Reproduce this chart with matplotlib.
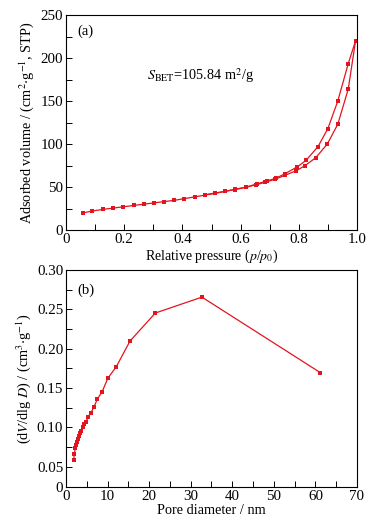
import matplotlib
matplotlib.use("Agg")
import matplotlib.pyplot as plt
from matplotlib.ticker import MultipleLocator

plt.rcParams['font.family'] = ['Liberation Serif', 'DejaVu Serif']
plt.rcParams['mathtext.fontset'] = 'stix'
plt.rcParams['font.size'] = 10

# Panel (a): N2 adsorption-desorption isotherm
ads_p = [0.06, 0.09, 0.127, 0.163, 0.197, 0.232, 0.267, 0.302, 0.337, 0.372, 0.407,
         0.442, 0.477, 0.512, 0.547, 0.582, 0.617, 0.652, 0.685, 0.718, 0.752, 0.792,
         0.822, 0.858, 0.898, 0.934, 0.97, 0.995]
ads_v = [20, 22, 24, 25.5, 27, 28.5, 30, 31.5, 33, 34.5, 36.5, 38.5, 40.5, 42.5, 45,
         47, 49.5, 52.5, 55.5, 59, 63.5, 69, 75, 84, 100, 123, 164, 220]
des_p = [0.995, 0.97, 0.934, 0.9, 0.866, 0.825, 0.795, 0.753, 0.72, 0.69, 0.655,
         0.62, 0.582, 0.547, 0.512, 0.477]
des_v = [220, 193.5, 150, 118, 97, 81, 73.5, 65.5, 60, 57, 53.5, 50, 47.5, 45, 43, 41]

# Panel (b): pore size distribution
pore_d = [1.85, 2.0, 2.25, 2.4, 2.6, 2.8, 3.05, 3.4, 3.7, 4.0, 4.3, 4.8, 5.3, 5.9,
          6.75, 7.55, 8.67, 10.1, 12.1, 15.4, 21.5, 32.7, 61.2]
dvdlogd = [0.058, 0.0666, 0.073, 0.0773, 0.0816, 0.085, 0.0889, 0.0923, 0.0957,
           0.100, 0.104, 0.1064, 0.1129, 0.1176, 0.126, 0.136, 0.145, 0.1626, 0.177,
           0.2097, 0.2453, 0.2655, 0.1694]

a_yticks = [0, 50, 100, 150, 200, 250]
a_xticks = [0, 0.2, 0.4, 0.6, 0.8, 1.0]
a_xticklabels = ['0', '0.2', '0.4', '0.6', '0.8', '1.0']
b_yticks = [0.024, 0.05, 0.10, 0.15, 0.20, 0.25, 0.30]
b_yticklabels = ['0', '0.05', '0.10', '0.15', '0.20', '0.25', '0.30']
b_xticks = [0, 10, 20, 30, 40, 50, 60, 70]

red = '#e3141e'
W, H = 374, 526
fig = plt.figure(figsize=(W / 100, H / 100), dpi=100)
ax1 = fig.add_axes([66 / W, 1 - 230 / H, 291 / W, 215 / H])
ax2 = fig.add_axes([66 / W, 1 - 487 / H, 291 / W, 217 / H])

mk = dict(color=red, marker='s', markersize=3.3, linewidth=0.9, markeredgewidth=0)
ax1.plot(ads_p, ads_v, **mk)
ax1.plot(des_p, des_v, **mk)
ax1.set_xlim(0, 1.0)
ax1.set_ylim(0, 250)
ax1.set_xticks(a_xticks)
ax1.set_xticklabels(a_xticklabels)
ax1.set_yticks(a_yticks)
ax1.xaxis.set_minor_locator(MultipleLocator(0.1))
ax1.yaxis.set_minor_locator(MultipleLocator(25))
ax1.set_xlabel(r'Relative pressure ($p$/$p_0$)', labelpad=1, fontsize=10)
ax1.set_ylabel(r'Adsorbed volume / (cm$^2$$\cdot$g$^{-1}$, STP)', labelpad=3, fontsize=10.3)
ax1.text(0.04, 0.91, '(a)', transform=ax1.transAxes, fontsize=10.5)
ax1.text(0.28, 0.70, r'$S_{\rm BET}$=105.84 m$^2$/g', transform=ax1.transAxes, fontsize=10.3)

ax2.plot(pore_d, dvdlogd, **mk)
ax2.set_xlim(0, 70)
ax2.set_ylim(0.024, 0.30)
ax2.set_xticks(b_xticks)
ax2.set_yticks(b_yticks)
ax2.set_yticklabels(b_yticklabels)
ax2.xaxis.set_minor_locator(MultipleLocator(5))
ax2.set_yticks([0.075, 0.125, 0.175, 0.225, 0.275], minor=True)
ax2.set_xlabel('Pore diameter / nm', labelpad=1, fontsize=10.3)
ax2.set_ylabel(r'(d$V$/dlg $D$) / (cm$^3$$\cdot$g$^{-1}$)', labelpad=3, fontsize=10.3)
ax2.text(0.04, 0.89, '(b)', transform=ax2.transAxes, fontsize=10.5)

for ax in (ax1, ax2):
    ax.tick_params(which='both', direction='in', top=False, right=False,
                   labelsize=10.8, width=0.7, pad=2)
    ax.tick_params(which='major', length=4)
    ax.tick_params(which='minor', length=4)
    for s in ax.spines.values():
        s.set_linewidth(0.8)

fig.savefig('out.png', dpi=100)
